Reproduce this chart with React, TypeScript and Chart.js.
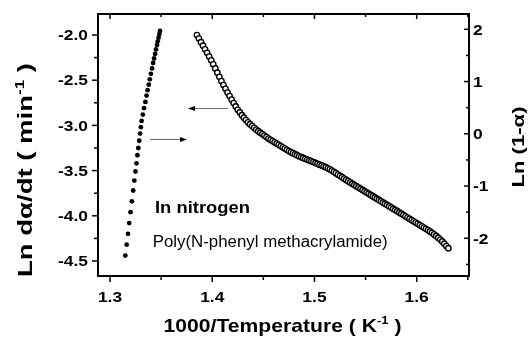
import React, { useEffect, useRef } from "react";
import { Chart, registerables } from "chart.js";

Chart.register(...registerables);

// Ln(dα/dt) vs 1000/T (filled dots, left axis)
const rateX = [
  1.3489, 1.3483, 1.3475, 1.3467, 1.346, 1.345, 1.3441, 1.3431, 1.3422, 1.3411,
  1.34, 1.3389, 1.3379, 1.3368, 1.3358, 1.3346, 1.3333, 1.3321, 1.3309, 1.3302,
  1.3294, 1.3286, 1.3277, 1.3268, 1.3259, 1.3249, 1.3238, 1.3227, 1.3214, 1.3201,
  1.3188, 1.3176, 1.3163, 1.315,
];
const rateY = [
  -1.956, -1.99, -2.03, -2.07, -2.11, -2.16, -2.21, -2.26, -2.31, -2.37,
  -2.43, -2.49, -2.55, -2.61, -2.67, -2.74, -2.81, -2.88, -2.95, -3.02,
  -3.09, -3.17, -3.25, -3.33, -3.42, -3.51, -3.61, -3.72, -3.84, -3.96,
  -4.08, -4.2, -4.32, -4.44,
];

// Ln(1-α) vs 1000/T (open circles, right axis)
const convX = [
  1.385, 1.387, 1.389, 1.391, 1.393, 1.395, 1.397, 1.399, 1.401, 1.403,
  1.405, 1.407, 1.409, 1.411, 1.413, 1.415, 1.417, 1.419, 1.421, 1.423,
  1.425, 1.427, 1.429, 1.431, 1.433, 1.435, 1.437, 1.439, 1.441, 1.443,
  1.445, 1.447, 1.449, 1.451, 1.453, 1.455, 1.457, 1.459, 1.461, 1.463,
  1.465, 1.467, 1.469, 1.471, 1.473, 1.475, 1.477, 1.479, 1.481, 1.483,
  1.485, 1.487, 1.489, 1.491, 1.493, 1.495, 1.497, 1.499, 1.501, 1.503,
  1.505, 1.507, 1.509, 1.511, 1.513, 1.515, 1.517, 1.519, 1.521, 1.523,
  1.525, 1.527, 1.529, 1.531, 1.533, 1.535, 1.537, 1.539, 1.541, 1.543,
  1.545, 1.547, 1.549, 1.551, 1.553, 1.555, 1.557, 1.559, 1.561, 1.563,
  1.565, 1.567, 1.569, 1.571, 1.573, 1.575, 1.577, 1.579, 1.581, 1.583,
  1.585, 1.587, 1.589, 1.591, 1.593, 1.595, 1.597, 1.599, 1.601, 1.603,
  1.605, 1.607, 1.609, 1.611, 1.613, 1.615, 1.617, 1.619, 1.621, 1.623,
  1.625, 1.627, 1.629, 1.631,
];
const convY = [
  1.89, 1.822, 1.754, 1.686, 1.618, 1.55, 1.478, 1.406, 1.33, 1.25,
  1.17, 1.09, 1.01, 0.934, 0.862, 0.79, 0.722, 0.654, 0.588, 0.524,
  0.46, 0.408, 0.356, 0.308, 0.264, 0.22, 0.184, 0.148, 0.114, 0.082,
  0.05, 0.022, -0.006, -0.034, -0.062, -0.09, -0.114, -0.138, -0.162, -0.186,
  -0.21, -0.234, -0.258, -0.282, -0.306, -0.33, -0.35, -0.37, -0.39, -0.41,
  -0.43, -0.446, -0.462, -0.478, -0.494, -0.51, -0.526, -0.542, -0.558, -0.574,
  -0.59, -0.606, -0.622, -0.64, -0.66, -0.68, -0.704, -0.728, -0.753, -0.779,
  -0.805, -0.831, -0.857, -0.882, -0.906, -0.93, -0.954, -0.978, -1.002, -1.026,
  -1.05, -1.074, -1.098, -1.122, -1.146, -1.17, -1.194, -1.218, -1.242, -1.266,
  -1.29, -1.314, -1.338, -1.362, -1.386, -1.41, -1.434, -1.458, -1.482, -1.506,
  -1.53, -1.554, -1.578, -1.602, -1.626, -1.65, -1.674, -1.698, -1.722, -1.746,
  -1.77, -1.794, -1.818, -1.843, -1.869, -1.895, -1.925, -1.955, -1.988, -2.024,
  -2.06, -2.104, -2.148, -2.19,
];

const xTickValues = [1.3, 1.4, 1.5, 1.6];
const xTickLabels = ["1.3", "1.4", "1.5", "1.6"];
const xMinorValues = [1.35, 1.45, 1.55, 1.65];
const leftTickValues = [-2.0, -2.5, -3.0, -3.5, -4.0, -4.5];
const leftTickLabels = ["-2.0", "-2.5", "-3.0", "-3.5", "-4.0", "-4.5"];
const leftMinorValues = [-2.25, -2.75, -3.25, -3.75, -4.25];
const rightTickValues = [2, 1, 0, -1, -2];
const rightTickLabels = ["2", "1", "0", "-1", "-2"];
const rightMinorValues = [1.5, 0.5, -0.5, -1.5, -2.5];

const xTitle = [{ t: "1000/Temperature ( K" }, { t: "-1", sup: true }, { t: " )" }];
const leftTitle = [{ t: "Ln d\u03b1/dt ( min" }, { t: "-1", sup: true }, { t: " )" }];
const rightTitle = [{ t: "Ln (1-\u03b1)" }];
const noteGas = [{ t: "In nitrogen" }];
const notePolymer = [{ t: "Poly(N-phenyl methacrylamide)" }];

const FAMILY = '"Liberation Sans", Arial, Helvetica, sans-serif';

type Seg = { t: string; sup?: boolean };
type RichOpts = {
  x: number;
  y: number;
  size: number;
  weight: string;
  align: "left" | "center" | "right";
  rotate?: number;
  target?: number;
  scale?: number;
};

function drawRich(ctx: CanvasRenderingContext2D, segs: Seg[], o: RichOpts) {
  ctx.save();
  ctx.translate(o.x, o.y);
  if (o.rotate) ctx.rotate(o.rotate);
  const fontFor = (sup?: boolean) =>
    `${o.weight} ${sup ? o.size * 0.62 : o.size}px ${FAMILY}`;
  let w = 0;
  for (const s of segs) {
    ctx.font = fontFor(s.sup);
    w += ctx.measureText(s.t).width;
  }
  const sc = o.target ? o.target / w : o.scale || 1;
  ctx.scale(sc, 1);
  let x0 = o.align === "center" ? -w / 2 : o.align === "right" ? -w : 0;
  ctx.textBaseline = "alphabetic";
  ctx.textAlign = "left";
  ctx.fillStyle = "#000";
  for (const s of segs) {
    ctx.font = fontFor(s.sup);
    ctx.fillText(s.t, x0, s.sup ? -o.size * 0.42 : 0);
    x0 += ctx.measureText(s.t).width;
  }
  ctx.restore();
}

function arrow(ctx: CanvasRenderingContext2D, x1: number, y: number, x2: number) {
  const dir = x2 > x1 ? 1 : -1;
  ctx.save();
  ctx.strokeStyle = "#6a6a6a";
  ctx.lineWidth = 1;
  ctx.beginPath();
  ctx.moveTo(x1, y + 0.5);
  ctx.lineTo(x2 - dir * 4, y + 0.5);
  ctx.stroke();
  ctx.fillStyle = "#000";
  ctx.beginPath();
  ctx.moveTo(x2, y + 0.5);
  ctx.lineTo(x2 - dir * 7, y - 2);
  ctx.lineTo(x2 - dir * 7, y + 3);
  ctx.closePath();
  ctx.fill();
  ctx.restore();
}

const decorPlugin = {
  id: "decor",
  afterDraw(chart: any) {
    const ctx: CanvasRenderingContext2D = chart.ctx;
    const { left, right, top, bottom } = chart.chartArea;
    const sx = chart.scales.x;
    const sy = chart.scales.y;
    const sr = chart.scales.y1;
    ctx.save();
    ctx.strokeStyle = "#000";
    ctx.lineWidth = 2;
    ctx.strokeRect(left, top, right - left, bottom - top);

    ctx.lineWidth = 1.5;
    const line = (a: number, b: number, c: number, d: number) => {
      ctx.beginPath();
      ctx.moveTo(a, b);
      ctx.lineTo(c, d);
      ctx.stroke();
    };
    xTickValues.forEach((v) => {
      const p = sx.getPixelForValue(v);
      line(p, bottom, p, bottom + 6);
      line(p, top, p, top + 5);
    });
    xMinorValues.forEach((v) => {
      const p = sx.getPixelForValue(v);
      line(p, bottom, p, bottom + 4);
      line(p, top, p, top + 3);
    });
    leftTickValues.forEach((v) => {
      const p = sy.getPixelForValue(v);
      line(left, p, left - 6, p);
    });
    leftMinorValues.forEach((v) => {
      const p = sy.getPixelForValue(v);
      line(left, p, left - 4, p);
    });
    rightTickValues.forEach((v) => {
      const p = sr.getPixelForValue(v);
      line(right, p, right - 5, p);
    });
    rightMinorValues.forEach((v) => {
      const p = sr.getPixelForValue(v);
      line(right, p, right - 3, p);
    });
    ctx.restore();

    const TS = 14.5;
    const TSC = 1.2;
    leftTickValues.forEach((v, i) => {
      const p = sy.getPixelForValue(v);
      drawRich(ctx, [{ t: leftTickLabels[i] }], {
        x: left - 10, y: p + 5.2, size: TS, weight: "bold", align: "right", scale: TSC,
      });
    });
    xTickValues.forEach((v, i) => {
      const p = sx.getPixelForValue(v);
      drawRich(ctx, [{ t: xTickLabels[i] }], {
        x: p, y: bottom + 25.7, size: TS, weight: "bold", align: "center", scale: TSC,
      });
    });
    rightTickValues.forEach((v, i) => {
      const p = sr.getPixelForValue(v);
      drawRich(ctx, [{ t: rightTickLabels[i] }], {
        x: right + 4, y: p + 5.2, size: TS, weight: "bold", align: "left", scale: TSC,
      });
    });

    drawRich(ctx, xTitle, { x: 282.5, y: 331.7, size: 18.6, weight: "bold", align: "center", target: 238 });
    drawRich(ctx, leftTitle, { x: 32, y: 170, size: 20, weight: "bold", align: "center", rotate: -Math.PI / 2, target: 214 });
    drawRich(ctx, rightTitle, { x: 524, y: 147, size: 17, weight: "bold", align: "center", rotate: -Math.PI / 2, target: 81 });

    drawRich(ctx, noteGas, { x: 155, y: 213.3, size: 16.3, weight: "bold", align: "left", target: 95 });
    drawRich(ctx, notePolymer, { x: 152.7, y: 247.3, size: 15.8, weight: "normal", align: "left", target: 235 });

    const ay1 = sy.getPixelForValue(-2.8075);
    arrow(ctx, sx.getPixelForValue(1.4154), ay1, sx.getPixelForValue(1.3763));
    const ay2 = sy.getPixelForValue(-3.15);
    arrow(ctx, sx.getPixelForValue(1.3391), ay2, sx.getPixelForValue(1.3753));
  },
};

export default function App() {
  const ref = useRef<HTMLCanvasElement | null>(null);
  useEffect(() => {
    if (!ref.current) return;
    const chart = new Chart(ref.current, {
      type: "scatter",
      data: {
        datasets: [
          {
            label: "Ln da/dt",
            data: rateX.map((x, i) => ({ x, y: rateY[i] })),
            yAxisID: "y",
            pointRadius: 2.4,
            pointBackgroundColor: "#000",
            pointBorderColor: "#000",
            pointBorderWidth: 0,
            showLine: false,
          },
          {
            label: "Ln (1-a)",
            data: convX.map((x, i) => ({ x, y: convY[i] })),
            yAxisID: "y1",
            pointRadius: 2.7,
            pointBackgroundColor: "#fff",
            pointBorderColor: "#000",
            pointBorderWidth: 1.35,
            showLine: false,
          },
        ],
      },
      options: {
        animation: false,
        responsive: false,
        maintainAspectRatio: false,
        devicePixelRatio: 1,
        layout: { padding: { top: 14, left: 0, right: 0, bottom: 0 } },
        plugins: { legend: { display: false }, tooltip: { enabled: false } },
        scales: {
          x: {
            type: "linear",
            min: 1.28826,
            max: 1.65116,
            ticks: { display: false },
            grid: { display: false },
            border: { display: false },
            afterFit: (s: any) => { s.height = 62; },
          },
          y: {
            type: "linear",
            position: "left",
            min: -4.666,
            max: -1.7677,
            ticks: { display: false },
            grid: { display: false },
            border: { display: false },
            afterFit: (s: any) => { s.width = 98; },
          },
          y1: {
            type: "linear",
            position: "right",
            min: -2.7215,
            max: 2.293,
            ticks: { display: false },
            grid: { display: false },
            border: { display: false },
            afterFit: (s: any) => { s.width = 62; },
          },
        },
      },
      plugins: [decorPlugin],
    } as any);
    return () => chart.destroy();
  }, []);
  return (
    <div style={{ position: "absolute", left: 0, top: 0, width: 531, height: 338, background: "#fff" }}>
      <canvas ref={ref} width={531} height={338} style={{ display: "block" }} />
    </div>
  );
}
